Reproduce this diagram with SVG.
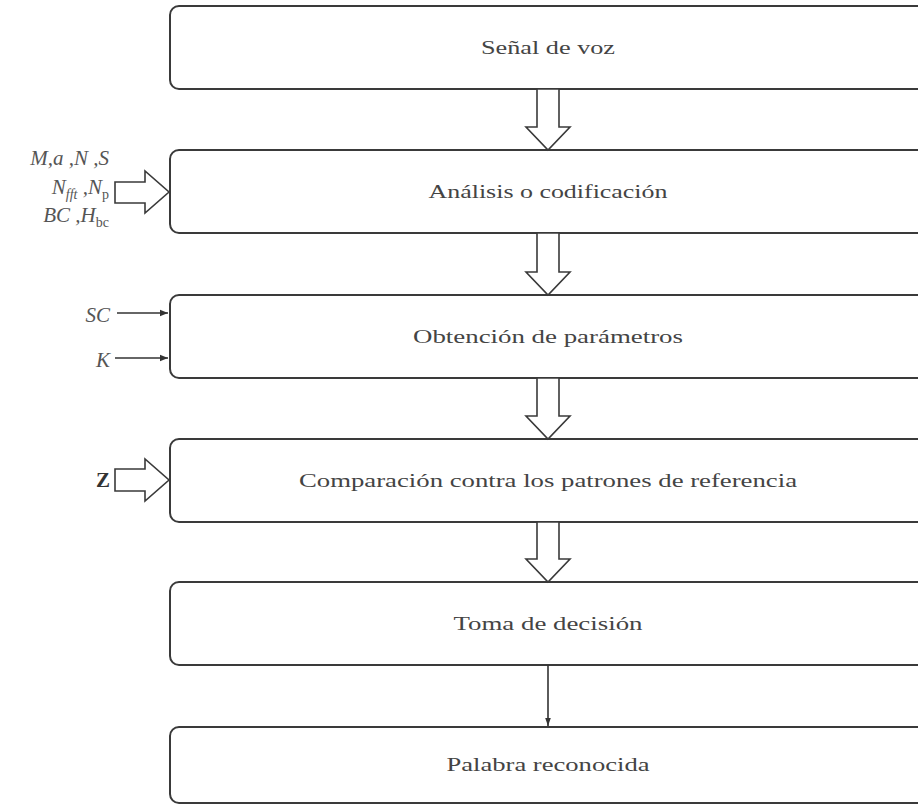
<svg xmlns="http://www.w3.org/2000/svg" width="918" height="807" viewBox="0 0 918 807">
  <style>
    .box { fill: #ffffff; stroke: #3a3a3a; stroke-width: 2; }
    .hollow { fill: #ffffff; stroke: #3a3a3a; stroke-width: 1.6; stroke-linejoin: miter; }
    .lbl { font-family: "Liberation Serif", "DejaVu Serif", serif; font-size: 19px; fill: #444444; text-anchor: middle; }
    .var { font-family: "Liberation Serif", "DejaVu Serif", serif; font-size: 21px; font-style: italic; fill: #555555; text-anchor: end; }
    .sub { font-size: 14px; }
    .up { font-style: normal; }
    .bold { font-style: normal; font-weight: bold; fill: #333333; }
    .wire { stroke: #333333; stroke-width: 1.6; fill: none; }
  </style>
  <defs>
    <marker id="head" viewBox="0 0 10 10" refX="10" refY="5" markerWidth="9" markerHeight="8" markerUnits="userSpaceOnUse" orient="auto">
      <path d="M0,1 L10,5 L0,9 Z" fill="#333333"/>
    </marker>
    <marker id="headS" viewBox="0 0 10 10" refX="10" refY="5" markerWidth="10" markerHeight="8" markerUnits="userSpaceOnUse" orient="auto">
      <path d="M0,1.5 L10,5 L0,8.5 Z" fill="#333333"/>
    </marker>
  </defs>

  <!-- process stages -->
  <g id="senal">
    <rect class="box" x="170" y="6" width="756" height="83" rx="9"/>
    <text class="lbl" x="548" y="54" textLength="134" lengthAdjust="spacingAndGlyphs">Señal de voz</text>
  </g>
  <g id="analisis">
    <rect class="box" x="170" y="150" width="756" height="83" rx="9"/>
    <text class="lbl" x="548" y="198" textLength="239" lengthAdjust="spacingAndGlyphs">Análisis o codificación</text>
  </g>
  <g id="parametros">
    <rect class="box" x="170" y="295" width="756" height="83" rx="9"/>
    <text class="lbl" x="548" y="343" textLength="270" lengthAdjust="spacingAndGlyphs">Obtención de parámetros</text>
  </g>
  <g id="comparacion">
    <rect class="box" x="170" y="439" width="756" height="83" rx="9"/>
    <text class="lbl" x="548" y="487" textLength="498" lengthAdjust="spacingAndGlyphs">Comparación contra los patrones de referencia</text>
  </g>
  <g id="decision">
    <rect class="box" x="170" y="582" width="756" height="83" rx="9"/>
    <text class="lbl" x="548" y="630" textLength="189" lengthAdjust="spacingAndGlyphs">Toma de decisión</text>
  </g>
  <g id="palabra">
    <rect class="box" x="170" y="727" width="756" height="76" rx="9"/>
    <text class="lbl" x="548" y="771" textLength="203" lengthAdjust="spacingAndGlyphs">Palabra reconocida</text>
  </g>

  <!-- input parameters -->
  <g id="params-analisis">
    <text class="var" x="109" y="165">M,a ,N ,S</text>
    <text class="var" x="109" y="194">N<tspan class="sub" dy="5">fft</tspan><tspan dy="-5"> ,N</tspan><tspan class="sub up" dy="5">p</tspan></text>
    <text class="var" x="109" y="222">BC ,H<tspan class="sub up" dy="5">bc</tspan></text>
  </g>
  <g id="params-obtencion">
    <text class="var" x="110" y="322">SC</text>
    <text class="var" x="110" y="367">K</text>
  </g>
  <g id="params-comparacion">
    <text class="var bold" x="110" y="487">Z</text>
  </g>

  <!-- connectors -->
  <g id="connectors">
    <polygon class="hollow" points="537,89 559,89 559,127 570,127 548,150 526,127 537,127"/>
    <polygon class="hollow" points="537,233 559,233 559,272 570,272 548,295 526,272 537,272"/>
    <polygon class="hollow" points="537,378 559,378 559,416 570,416 548,439 526,416 537,416"/>
    <polygon class="hollow" points="537,522 559,522 559,559 570,559 548,582 526,559 537,559"/>
    <line class="wire" x1="548" y1="665" x2="548" y2="726" marker-end="url(#headS)"/>

    <polygon class="hollow" points="115,182 145,182 145,171 169,192 145,213 145,203 115,203"/>
    <polygon class="hollow" points="115,469 145,469 145,459 169,480 145,501 145,491 115,491"/>
    <line class="wire" x1="117" y1="313" x2="168" y2="313" marker-end="url(#head)"/>
    <line class="wire" x1="115" y1="358" x2="168" y2="358" marker-end="url(#head)"/>
  </g>
</svg>
